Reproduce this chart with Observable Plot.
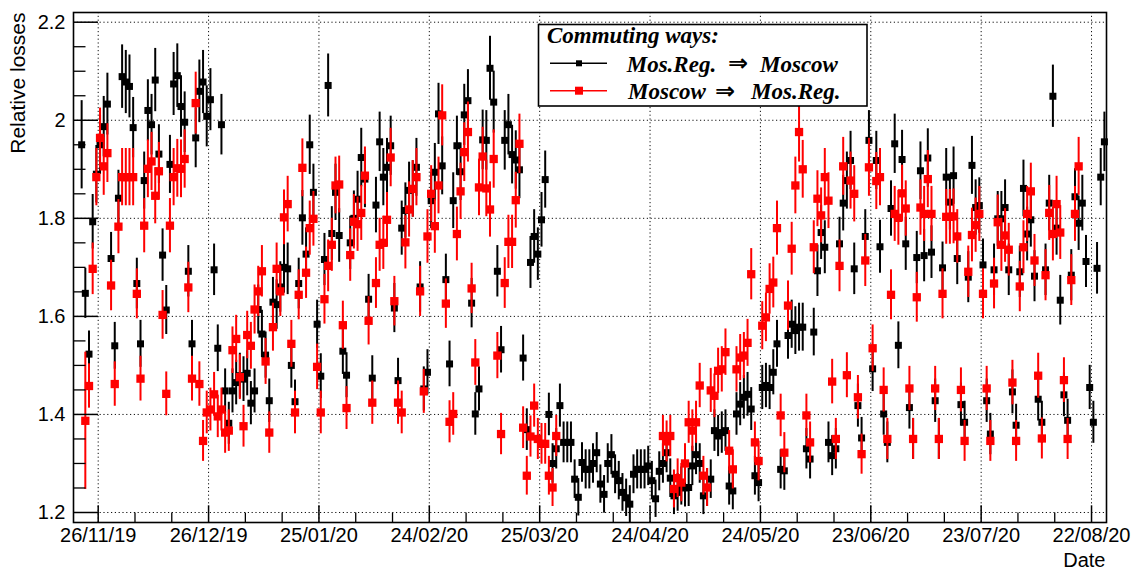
<!DOCTYPE html>
<html><head><meta charset="utf-8">
<script src="https://cdn.jsdelivr.net/npm/d3@7"></script>
<script src="https://cdn.jsdelivr.net/npm/@observablehq/plot@0.6"></script>
<style>html,body{margin:0;padding:0;background:#fff}svg{display:block}</style>
</head><body><div id="chart"></div>
<script>
// ---------------- data ----------------
const legendTitle = "Commuting ways:";
const seriesNames = ["Mos.Reg.", "Moscow"];
// daily values, Mos.Reg. => Moscow, starting 22/11/2019
const blackStart = "2019-11-22";
const blackValues = [
1.95,1.647,1.523,1.793,1.89,1.95,1.987,2.033,1.718,1.540,1.841,2.089,2.078,2.069,1.985,1.667,1.544,1.877,2.02,1.991,
2.082,1.931,1.725,1.613,1.910,2.074,2.091,2.028,1.996,1.692,1.544,1.964,2.059,2.078,2.008,2.042,1.695,1.535,1.991,1.448,
1.382,1.448,1.465,1.479,1.472,1.484,1.423,1.448,1.614,1.564,1.521,1.428,1.629,1.624,1.66,1.700,1.697,1.50,1.426,1.667,
1.801,1.727,1.950,1.853,1.584,1.478,1.716,2.071,1.769,1.853,1.765,1.529,1.480,1.750,1.80,1.839,1.924,1.88,1.635,1.474,
1.827,1.956,1.884,1.904,1.948,1.617,1.469,1.78,1.816,1.857,1.86,1.904,1.66,1.452,1.486,1.836,1.894,2.013,1.907,1.675,
1.503,1.836,1.948,1.895,2.011,2.040,1.627,1.401,1.452,1.96,1.959,2.106,2.037,1.692,1.532,1.959,1.991,1.930,1.919,1.899,
1.515,1.369,1.710,1.763,1.727,1.797,1.879,1.40,1.30,1.33,1.418,1.343,1.343,1.343,1.268,1.231,1.302,1.288,1.288,1.30,
1.322,1.258,1.237,1.30,1.318,1.278,1.265,1.241,1.23,1.217,1.278,1.288,1.288,1.288,1.295,1.265,1.228,1.284,1.30,1.322,
1.27,1.234,1.241,1.254,1.25,1.251,1.295,1.318,1.30,1.234,1.251,1.268,1.367,1.356,1.363,1.367,1.254,1.244,1.401,1.421,
1.435,1.441,1.411,1.275,1.261,1.455,1.459,1.455,1.486,1.544,1.288,1.285,1.561,1.584,1.571,1.578,1.578,1.33,1.309,1.568,
1.693,1.771,1.741,1.343,1.316,1.33,1.748,1.831,1.877,1.918,1.697,1.418,1.352,1.763,1.959,1.493,1.918,1.742,1.401,1.343,
1.820,1.952,1.541,1.920,1.748,1.414,1.350,1.720,1.897,1.724,1.923,1.731,1.428,1.350,1.699,1.884,1.833,1.887,1.718,1.42,
1.384,1.680,1.908,1.822,1.826,1.705,1.428,1.360,1.695,1.799,1.799,1.822,1.695,1.446,1.378,1.691,1.861,1.768,1.797,1.682,
1.431,1.384,1.695,1.831,2.049,1.78,1.633,1.44,1.388,1.684,1.844,1.790,1.831,1.712,1.455,1.384,1.698,1.884,1.956
];
// daily values, Moscow => Mos.Reg., starting 23/11/2019 (null = no point)
const redStart = "2019-11-23";
const redValues = [
1.387,1.458,1.697,1.884,1.964,1.906,1.933,1.663,1.462,1.783,1.884,1.884,1.884,1.884,1.646,1.473,1.785,1.901,1.916,1.846,
1.896,1.603,1.442,1.785,1.884,1.902,1.901,1.921,1.659,1.473,2.035,1.462,1.346,1.404,1.410,1.441,1.396,1.410,1.363,1.367,
1.531,1.554,1.476,1.376,1.562,1.540,1.614,1.651,1.692,1.508,1.363,1.578,1.697,1.651,1.802,1.829,1.544,1.404,1.644,1.903,
1.689,1.780,1.799,1.497,1.404,1.635,1.703,1.746,1.867,1.869,1.582,1.413,1.725,1.793,1.788,1.811,1.887,1.591,1.424,1.668,
1.746,1.750,1.797,1.924,1.631,1.424,1.404,1.751,1.818,1.860,1.884,1.651,1.447,1.763,1.850,1.784,1.867,2.010,1.626,1.385,
1.401,1.768,1.855,1.935,1.976,1.657,1.506,1.863,1.926,1.861,1.818,1.921,1.520,1.360,1.668,1.752,1.752,1.837,1.952,1.373,
1.275,1.355,1.418,1.350,1.340,1.340,1.275,1.251,1.356,
null,null,null,null,null,null,null,null,null,null,null,null,null,null,null,null,null,null,null,null,null,null,null,null,null,null,null,null,
1.356,1.345,1.356,1.248,1.27,1.261,1.30,1.384,1.367,1.384,1.459,1.275,1.251,1.449,1.438,1.489,1.492,1.527,1.326,1.288,
1.492,1.516,1.520,1.546,1.686,1.343,1.305,1.581,1.598,1.656,1.669,1.780,1.398,1.322,1.622,1.738,1.867,1.976,1.90,1.398,
1.343,1.741,1.840,1.806,1.884,1.836,1.467,1.350,1.703,1.906,1.480,1.877,1.850,1.435,1.319,1.714,1.904,1.535,1.876,1.884,
1.450,1.350,1.644,1.809,1.801,1.851,1.820,1.453,1.350,1.639,1.822,1.809,1.880,1.809,1.453,1.350,1.646,1.803,1.803,1.804,
1.763,1.450,1.346,1.691,1.766,1.786,1.809,1.646,1.453,1.346,1.667,1.792,1.746,1.765,1.736,1.465,1.346,1.661,1.741,1.809,
1.855,1.714,1.479,1.351,1.684,1.811,1.768,1.829,1.771,1.470,1.350,1.674,1.809,1.906
];
const relErr = 0.031;
const blackFirstErr = [0.09];
const redFirstErr = [0.14];
const xTickLabels = ["26/11/19","26/12/19","25/01/20","24/02/20","25/03/20","24/04/20","24/05/20","23/06/20","23/07/20","22/08/20"];
const yTicks = [1.2, 1.4, 1.6, 1.8, 2.0, 2.2];
const yTickLabels = ["1.2","1.4","1.6","1.8","2","2.2"];
const xTitle = "Date";
const yTitle = "Relative losses";

// ---------------- build ----------------
const DAY = 864e5;
const parseISO = d3.utcParse("%Y-%m-%d");
const parseTick = d3.utcParse("%d/%m/%y");
function build(start, values, firstErr) {
  const t0 = parseISO(start).getTime();
  const out = [];
  values.forEach((v, i) => {
    if (v == null) return;
    const e = i < firstErr.length ? firstErr[i] : v * relErr;
    out.push({t: new Date(t0 + i * DAY - DAY / 2), v, lo: v - e, hi: v + e});
  });
  return out;
}
const black = build(blackStart, blackValues, blackFirstErr);
const red = build(redStart, redValues, redFirstErr);
const majorX = xTickLabels.map(s => parseTick(s));
const t0 = majorX[0].getTime();
const minorX = d3.range(0, 28).filter(k => k % 3).map(k => new Date(t0 + k * 10 * DAY));
const minorY = d3.range(0, 21).map(k => +(1.2 + k * 0.05).toFixed(2)).filter(v => !yTicks.some(t => Math.abs(t - v) < 1e-9));

const W = 1137, H = 570, ML = 73, MR = 31, MT = 12, MB = 48;
const PW = W - ML - MR, PH = H - MT - MB;
const dot = {strokeDasharray: "1.2,2.6", stroke: "#111", strokeWidth: 1};

const plot = Plot.plot({
  width: W, height: H,
  marginLeft: ML, marginRight: MR, marginTop: MT, marginBottom: MB,
  style: {fontFamily: "'Liberation Sans', Arial, sans-serif", background: "white", color: "black"},
  x: {type: "utc", domain: [new Date(t0 - 6.714 * DAY), new Date(t0 + 274.07 * DAY)]},
  y: {domain: [1.1796, 2.2198]},
  marks: [
    Plot.ruleX(majorX, {x: d => d, ...dot}),
    Plot.ruleY(yTicks, {y: d => d, ...dot}),
    Plot.ruleX(black, {x: "t", y1: "lo", y2: "hi", stroke: "black", strokeWidth: 2}),
    Plot.dot(black, {x: "t", y: "v", symbol: "square", r: 7 / Math.sqrt(Math.PI), fill: "black"}),
    Plot.ruleX(red, {x: "t", y1: "lo", y2: "hi", stroke: "#ff0000", strokeWidth: 2}),
    Plot.dot(red, {x: "t", y: "v", symbol: "square", r: 8.3 / Math.sqrt(Math.PI), fill: "#ff0000"}),
    Plot.tickX(minorX, {x: d => d, insetTop: PH - 9.4, stroke: "black", strokeWidth: 1.3}),
    Plot.tickX(majorX, {x: d => d, insetTop: PH - 16.7, stroke: "black", strokeWidth: 1.5}),
    Plot.tickY(minorY, {y: d => d, insetRight: PW - 12.5, stroke: "black", strokeWidth: 1.3}),
    Plot.tickY(yTicks, {y: d => d, insetRight: PW - 25, stroke: "black", strokeWidth: 1.5}),
    Plot.frame({stroke: "black", strokeWidth: 1.6}),
    Plot.axisX(majorX, {tickSize: 0, tickPadding: 5, fontSize: 20, label: null,
      tickFormat: d => xTickLabels[majorX.findIndex(m => +m === +d)]}),
    Plot.axisY(yTicks, {tickSize: 0, tickPadding: 8, fontSize: 20, label: null,
      tickFormat: d => yTickLabels[yTicks.indexOf(d)]}),
    Plot.text([yTitle], {frameAnchor: "top-left", rotate: -90, dx: -63, textAnchor: "end", fontSize: 21}),
    Plot.text([xTitle], {frameAnchor: "bottom-right", dy: 44, dx: -1, textAnchor: "end", fontSize: 20})
  ]
});
document.getElementById("chart").appendChild(plot);

// ---------------- legend ----------------
const svg = d3.select(plot);
const lg = svg.append("g").attr("text-anchor", "start");
const serif = "'Liberation Serif', 'Times New Roman', 'DejaVu Serif', serif";
lg.append("rect").attr("x", 538.5).attr("y", 24.5).attr("width", 328.5).attr("height", 81.5)
  .attr("fill", "white").attr("stroke", "black").attr("stroke-width", 1.6);
function lt(x, y, s, fam, size) {
  lg.append("text").attr("x", x).attr("y", y).text(s).attr("text-anchor", "start")
    .attr("font-family", fam || serif).attr("font-weight", "bold").attr("font-style", "italic")
    .attr("font-size", size || 23).attr("fill", "black");
}
lt(547, 42.7, legendTitle);
lg.append("line").attr("x1", 550).attr("x2", 607).attr("y1", 63.3).attr("y2", 63.3).attr("stroke", "black").attr("stroke-width", 1.5);
lg.append("rect").attr("x", 576).attr("y", 60.3).attr("width", 6).attr("height", 6).attr("fill", "black");
lg.append("line").attr("x1", 550).attr("x2", 607).attr("y1", 90.7).attr("y2", 90.7).attr("stroke", "#ff0000").attr("stroke-width", 1.5);
lg.append("rect").attr("x", 575).attr("y", 86.7).attr("width", 8).attr("height", 8).attr("fill", "#ff0000");
lt(626.7, 71.7, seriesNames[0]);
lt(728, 71.2, "⇒", "'DejaVu Sans', sans-serif", 24);
lt(760, 71.7, seriesNames[1]);
lt(628, 99.3, seriesNames[1]);
lt(715, 98.8, "⇒", "'DejaVu Sans', sans-serif", 24);
lt(751, 99.3, seriesNames[0]);
</script>
</body></html>
